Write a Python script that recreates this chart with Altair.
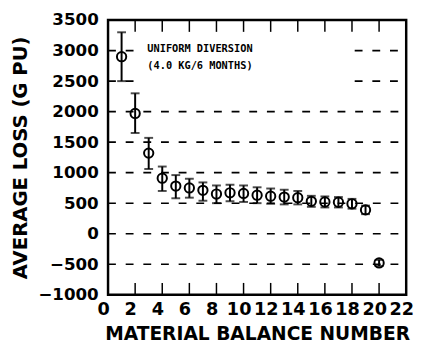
import altair as alt
import pandas as pd

# data
mb = list(range(1, 21))
loss = [2900, 1970, 1320, 910, 780, 750, 710, 650, 670, 660, 630, 615, 600, 590, 530, 520, 515, 490, 390, -480]
err_lo = [2500, 1650, 1060, 700, 580, 590, 540, 500, 530, 520, 500, 490, 480, 480, 440, 430, 430, 410, 320, -530]
err_hi = [3300, 2300, 1570, 1100, 960, 900, 840, 790, 800, 790, 760, 740, 720, 700, 620, 610, 600, 570, 460, -430]

x_ticks = list(range(0, 23, 2))
y_ticks = list(range(-1000, 3501, 500))
full_grid = [2000, 1500, 1000, 500, 0, -500]
part_grid = [3000, 2500]
note_lines = ["UNIFORM DIVERSION", "(4.0 KG/6 MONTHS)"]
note_y = [3030, 2740]

FONT = "DejaVu Sans"
NOTE_FONT = "DejaVu Sans Mono"

df = pd.DataFrame({"x": mb, "y": loss, "lo": err_lo, "hi": err_hi})

grid_rows = [{"y": v, "x0": 0, "x1": 22} for v in full_grid]
for v in part_grid:
    grid_rows.append({"y": v, "x0": 0, "x1": 2.1})
    grid_rows.append({"y": v, "x0": 18.2, "x1": 22})
grid_df = pd.DataFrame(grid_rows)

xs = alt.Scale(domain=[0, 22], nice=False, zero=False)
ys = alt.Scale(domain=[-1000, 3500], nice=False, zero=False)

x_axis = alt.Axis(values=x_ticks, title="MATERIAL BALANCE NUMBER", format="d",
                  labelFont=FONT, labelFontWeight="bold", labelFontSize=18,
                  labelColor="black", labelPadding=6, labelOffset=-5, ticks=False, domain=False,
                  grid=False, labelFlush=False, labelOverlap=False,
                  titleFont=FONT, titleFontWeight="bold", titleFontSize=19,
                  titleColor="black", titlePadding=7)
y_axis = alt.Axis(values=y_ticks, title="AVERAGE LOSS (G PU)", format="d",
                  labelFont=FONT, labelFontWeight="bold", labelFontSize=17,
                  labelColor="black", labelPadding=10, ticks=False, domain=False,
                  grid=False, labelFlush=False, labelOverlap=False,
                  titleFont=FONT, titleFontWeight="bold", titleFontSize=20,
                  titleColor="black", titlePadding=8)


def X(f):
    return alt.X(f, scale=xs, axis=x_axis)


def Y(f):
    return alt.Y(f, scale=ys, axis=y_axis)


grid = alt.Chart(grid_df).mark_rule(color="black", strokeWidth=1.6, strokeDash=[8, 10]).encode(
    x=X("x0:Q"), x2="x1:Q", y=Y("y:Q"))

tick_df = pd.DataFrame({"x": x_ticks[1:-1]})
ticks_bottom = alt.Chart(tick_df).mark_rule(color="black", strokeWidth=1.5).encode(
    x=X("x:Q"), y=alt.value(280), y2=alt.value(268))
ticks_top = alt.Chart(tick_df).mark_rule(color="black", strokeWidth=1.5).encode(
    x=X("x:Q"), y=alt.value(0), y2=alt.value(12))

bars = alt.Chart(df).mark_rule(color="black", strokeWidth=2).encode(
    x=X("x:Q"), y=Y("lo:Q"), y2="hi:Q")
caps_hi = alt.Chart(df).mark_tick(color="black", thickness=2, size=9, orient="horizontal").encode(
    x=X("x:Q"), y=Y("hi:Q"))
caps_lo = alt.Chart(df).mark_tick(color="black", thickness=2, size=9, orient="horizontal").encode(
    x=X("x:Q"), y=Y("lo:Q"))
pts = alt.Chart(df).mark_point(shape="circle", filled=False, color="black", strokeWidth=2,
                               size=90, opacity=1).encode(x=X("x:Q"), y=Y("y:Q"))

note_df = pd.DataFrame({"x": [2.9, 2.9], "y": note_y, "t": note_lines})
note = alt.Chart(note_df).mark_text(align="left", baseline="middle", font=NOTE_FONT,
                                    fontWeight="bold", fontSize=10.5, color="black").encode(
    x=X("x:Q"), y=Y("y:Q"), text="t:N")

chart = alt.layer(grid, ticks_bottom, ticks_top, bars, caps_hi, caps_lo, pts, note).properties(
    width=304, height=280,
    autosize=alt.AutoSizeParams(type="none"),
    padding={"left": 102, "top": 9, "right": 10, "bottom": 50},
    background="white",
).configure_view(stroke="black", strokeWidth=2.5)

chart.save("out.html", embed_options={"renderer": "svg", "actions": False})
